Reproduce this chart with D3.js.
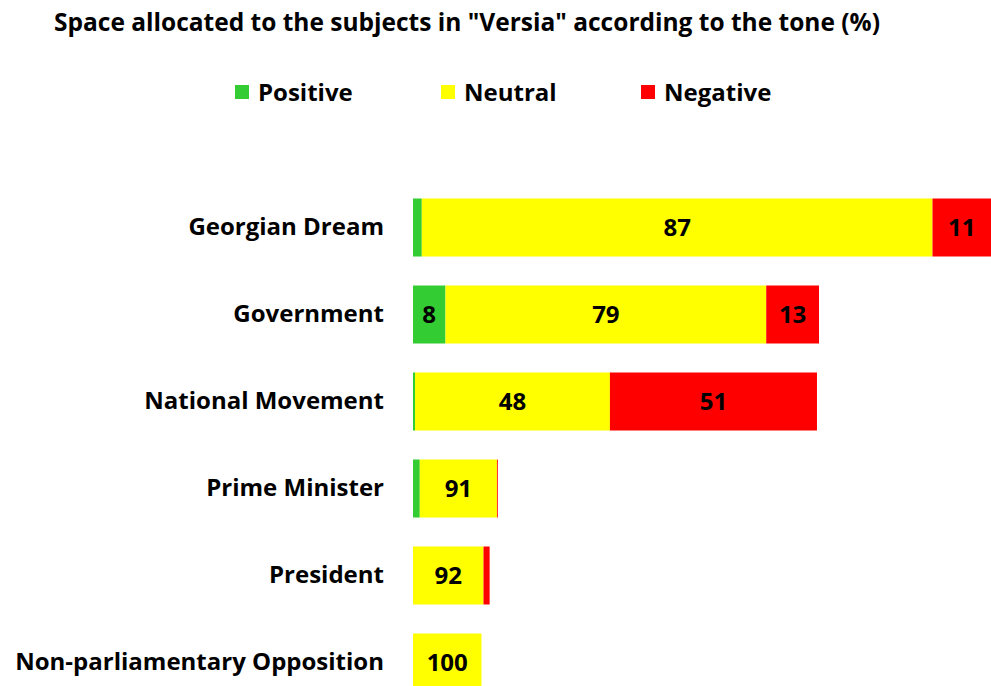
<!DOCTYPE html>
<html>
<head>
<meta charset="utf-8">
<script src="https://cdn.jsdelivr.net/npm/d3@7"></script>
<style>
  body { margin: 0; background: #fff; }
  #chart { width: 991px; height: 686px; overflow: hidden; }
</style>
</head>
<body>
<div id="chart"></div>
<script>
// subjects, top to bottom
var categories = ["Georgian Dream", "Government", "National Movement", "Prime Minister", "President", "Non-parliamentary Opposition"];
// share of the total space each subject got (bar length)
var spaceShare = [36.0, 24.9, 24.9, 5.2, 4.7, 4.2];
// tone split inside each bar (%)
var positive = [1.5, 8, 0.5, 8, 0, 0];
var neutral = [87, 79, 48, 91, 92, 100];
var negative = [11, 13, 51, 1, 8, 0];
var tones = ["Positive", "Neutral", "Negative"];
var toneColors = ["#33cc33", "#ffff00", "#ff0000"];

var W = 991, H = 686;
var margin = {top: 184, right: 0, bottom: 0, left: 413};
var fontFamily = "'Open Sans', sans-serif";

var svg = d3.select("#chart")
  .append("svg")
  .attr("width", W)
  .attr("height", H)
  .style("font-family", fontFamily);

// title
svg.append("text")
  .attr("x", 467)
  .attr("y", 31)
  .attr("text-anchor", "middle")
  .attr("font-size", 24.5)
  .attr("font-weight", "bold")
  .text('Space allocated to the subjects in "Versia" according to the tone (%)');

// legend
var legendX = [235, 441, 641];
var legend = svg.append("g")
  .selectAll("g")
  .data(tones)
  .join("g")
  .attr("transform", (d, i) => `translate(${legendX[i]}, 85)`);
legend.append("rect")
  .attr("width", 14)
  .attr("height", 14)
  .attr("fill", (d, i) => toneColors[i]);
legend.append("text")
  .attr("x", 23)
  .attr("y", 16)
  .attr("font-size", 24)
  .attr("font-weight", "bold")
  .text(d => d);

// build stacked rows from the arrays
var rows = categories.map((c, i) => ({
  name: c, space: spaceShare[i],
  Positive: positive[i], Neutral: neutral[i], Negative: negative[i]
}));
var stacked = d3.stack().keys(tones)(rows);

var x = d3.scaleLinear()
  .domain([0, 36])
  .range([margin.left, margin.left + 587]);

var y = d3.scaleBand()
  .domain(categories)
  .range([margin.top, margin.top + 6 * 87])
  .paddingInner(1 / 3)
  .paddingOuter(1 / 6);

// segment start/end in pixels: percent of the bar's own length
function segX(d, v) {
  return x(d.data.space * v / 100);
}

// y axis labels only
var yAxis = svg.append("g")
  .attr("transform", `translate(${margin.left - 29}, 0)`)
  .call(d3.axisLeft(y).tickSize(0).tickPadding(0));
yAxis.select(".domain").remove();
yAxis.selectAll("text")
  .attr("font-family", fontFamily)
  .attr("font-size", 24)
  .attr("font-weight", "bold")
  .attr("fill", "#000");

// bars
var layers = svg.append("g")
  .selectAll("g")
  .data(stacked)
  .join("g")
  .attr("fill", (d, i) => toneColors[i]);

layers.selectAll("rect")
  .data(d => d)
  .join("rect")
  .attr("x", d => segX(d, d[0]))
  .attr("y", d => y(d.data.name))
  .attr("width", d => segX(d, d[1]) - segX(d, d[0]))
  .attr("height", y.bandwidth());

// values inside the segments, only where there is room
layers.selectAll("text")
  .data(d => d.filter(s => segX(s, s[1]) - segX(s, s[0]) > 20))
  .join("text")
  .attr("x", d => (segX(d, d[0]) + Math.min(segX(d, d[1]), W)) / 2)
  .attr("y", d => y(d.data.name) + y.bandwidth() / 2)
  .attr("dy", "0.36em")
  .attr("text-anchor", "middle")
  .attr("fill", "#000")
  .attr("font-size", 24)
  .attr("font-weight", "bold")
  .text(d => d[1] - d[0]);
</script>
</body>
</html>
